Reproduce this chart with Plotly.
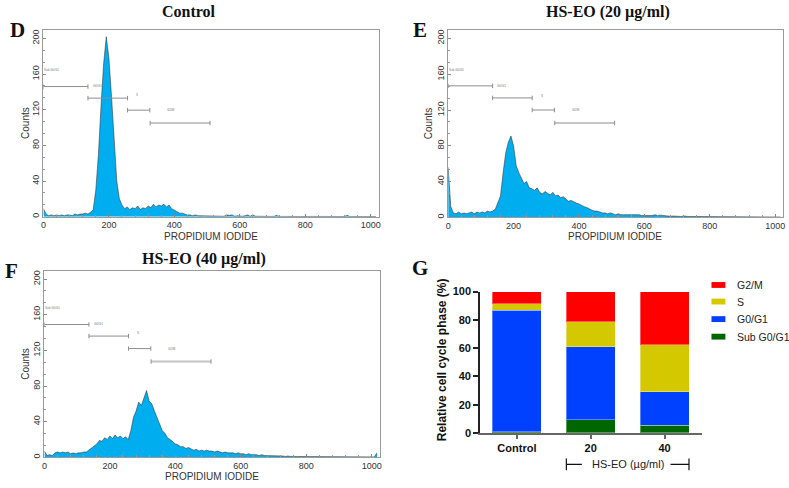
import plotly.graph_objects as go

W, H = 789, 488


def fx(p):
    return p / W


def fy(p):
    return 1 - p / H


# ---------------- data ----------------
channels = list(range(0, 1024, 8))  # PI channel bins (8 channels per bin)

counts_control = [
    9, 3, 1, 2, 1, 2, 1, 2,
    1, 2, 2, 1, 3, 2, 3, 3,
    4, 3, 5, 8, 30, 70, 125, 172,
    202, 178, 135, 80, 40, 20, 13, 9,
    11, 8, 10, 9, 12, 8, 10, 9,
    12, 10, 14, 11, 13, 12, 14, 11,
    13, 9, 7, 6, 4, 4, 3, 2,
    2, 1, 2, 1, 1, 1, 1, 0.5,
    1, 0.5, 1, 0.5, 1, 0.5, 2, 1.5,
    2, 0.5, 1, 0.5, 0.5, 1, 2, 0.5,
    2, 0.5, 0.5, 0.3, 0.5, 0.3, 0.5, 0.3,
    0.3, 1.5, 0.3, 0.3, 0.2, 0.3, 0.2, 0.3,
    0.2, 0.2, 0.3, 0.2, 0.2, 0.2, 0.3, 0.2,
    0.2, 0.2, 0.2, 0.2, 0.2, 0.3, 0.2, 0.2,
    0.2, 0.2, 0.2, 0.2, 1.5, 0.2, 0.2, 0.2,
    0.2, 0.2, 0.2, 0.2, 0.2, 0.2, 0.2, 0.2,
]

counts_20 = [
    56, 12, 5, 4, 6, 4, 5, 4,
    5, 6, 4, 6, 5, 6, 5, 7,
    6, 7, 9, 16, 24, 50, 72, 84,
    91, 80, 58, 50, 44, 38, 40, 33,
    32, 30, 33, 28, 26, 29, 27, 25,
    28, 24, 25, 22, 23, 20, 18, 19,
    17, 16, 15, 13, 12, 11, 9, 8,
    7, 7, 6, 5, 5, 4, 5, 4,
    3, 4, 3, 3, 3, 2.5, 3, 2.5,
    2.5, 3, 2, 2, 2.5, 2, 2, 3,
    2, 2.5, 2, 1.5, 1.5, 1.2, 1.5, 1.2,
    1.5, 1, 1.5, 1, 1, 1, 1, 0.8,
    0.8, 1, 0.8, 0.6, 1, 0.6, 0.6, 0.8,
    0.5, 0.6, 0.5, 0.5, 0.5, 0.5, 0.5, 0.5,
    0.5, 0.5, 0.4, 0.6, 0.4, 0.4, 0.4, 0.4,
    0.4, 0.4, 0.4, 0.4, 0.4, 0.4, 0.4, 0.4,
]

counts_40 = [
    7, 2, 3, 2, 5, 6, 5, 6,
    5, 6, 4, 5, 4, 5, 5, 6,
    6, 8, 10, 12, 15, 19, 18, 22,
    20, 24, 21, 25, 22, 24, 21, 23,
    20, 30, 45, 52, 62, 58, 66, 75,
    63, 60, 52, 45, 38, 30, 27, 22,
    20, 17, 15, 14, 12, 12, 10, 11,
    9, 8, 9, 7, 8, 7, 8, 7,
    7, 6, 7, 6, 5, 6, 5, 5,
    5, 4, 5, 4, 4, 3, 4, 3,
    3, 3, 2, 3, 2, 2, 2, 2,
    2, 1.5, 1.5, 1.5, 1, 1.5, 1, 1,
    1, 1, 0.8, 1, 0.8, 0.8, 1, 0.7,
    0.7, 0.7, 0.6, 0.7, 0.6, 0.6, 0.6, 0.6,
    0.5, 0.5, 0.6, 0.5, 0.5, 0.5, 0.5, 0.5,
    0.5, 0.5, 0.5, 0.5, 0.5, 0.5, 0.5, 5,
]

pi_ticks = [0, 200, 400, 600, 800, 1000]
count_ticks = [0, 40, 80, 120, 160, 200]

# marker gates (channel ranges) and their drawing levels per histogram
gate_start = [0, 136, 257, 326]
gate_end = [136, 257, 325, 509]
gate_level_control = [146, 133, 119.5, 105]
gate_level_20 = [147, 133.5, 120, 105.5]
gate_level_40 = [149, 136, 122, 107.5]
gate_label_text = ["Sub G0/G1", "G0/G1", "S", "G2/M"]
gate_label_x = [26, 164, 286, 390]
gate_label_y_control = [164, 147, 136, 120]
gate_label_y_20 = [165, 147, 136, 120]
gate_label_y_40 = [168, 149, 139, 122]

# bar chart (G)
groups = ["Control", "20", "40"]
sub_g0g1 = [1.0, 9.2, 5.5]
g0g1 = [85.7, 51.7, 23.5]
s_phase = [4.8, 17.7, 33.5]
g2m = [8.5, 21.4, 37.5]
phase_names = ["Sub G0/G1", "G0/G1", "S", "G2/M"]
phase_colors = ["#006600", "#0040FF", "#D4C800", "#FF0000"]
pct_ticks = [0, 20, 40, 60, 80, 100]

# ---------------- figure ----------------
fig = go.Figure()

SANS = "Liberation Sans, Arial, sans-serif"
SERIF = "Liberation Serif, Times New Roman, serif"
FILL = "#00AEEF"

hists = [
    (counts_control, "x", "y", gate_level_control, gate_label_y_control),
    (counts_20, "x2", "y2", gate_level_20, gate_label_y_20),
    (counts_40, "x3", "y3", gate_level_40, gate_label_y_40),
]

shapes = []
annotations = []
for counts, xa, ya, levels, label_ys in hists:
    fig.add_trace(go.Scatter(
        x=channels, y=counts, xaxis=xa, yaxis=ya, mode="lines",
        line=dict(color="rgba(45,45,45,0.75)", width=0.7),
        fill="tozeroy", fillcolor=FILL, showlegend=False, hoverinfo="x+y",
    ))
    for i in range(len(gate_start)):
        thick = i == len(gate_start) - 1
        col = "#c4c4c4" if thick else "#8e8e8e"
        shapes.append(dict(type="line", xref=xa, yref=ya,
                           x0=gate_start[i], x1=gate_end[i], y0=levels[i], y1=levels[i],
                           line=dict(color=col, width=2 if thick else 1)))
        for xe in (gate_start[i], gate_end[i]):
            shapes.append(dict(type="line", xref=xa, yref=ya,
                               x0=xe, x1=xe, y0=levels[i] - 2.5, y1=levels[i] + 2.5,
                               line=dict(color="#8e8e8e", width=1)))
        annotations.append(dict(xref=xa, yref=ya, x=gate_label_x[i], y=label_ys[i],
                                text=gate_label_text[i], showarrow=False,
                                font=dict(family=SANS, size=3, color="#777")))

# stacked bars
for vals, name, col in zip([sub_g0g1, g0g1, s_phase, g2m], phase_names, phase_colors):
    fig.add_trace(go.Bar(
        x=groups, y=vals, name=name, xaxis="x4", yaxis="y4",
        marker=dict(color=col, line=dict(color="rgba(255,255,255,0.35)", width=1)),
        showlegend=False,
    ))

hist_x = dict(range=[0, 1024], tickvals=pi_ticks, ticks="inside", ticklen=3,
              tickcolor="#888", showline=True, mirror=True, linecolor="#9a9a9a",
              linewidth=1, showgrid=False, zeroline=False,
              tickfont=dict(family=SANS, size=9, color="#333"),
              minor=dict(dtick=40, ticks="inside", ticklen=2, tickcolor="#999"))
hist_y = dict(range=[0, 209], tickvals=count_ticks, ticks="inside", ticklen=3,
              tickcolor="#888", showline=True, mirror=True, linecolor="#9a9a9a",
              linewidth=1, showgrid=False, zeroline=False, tickangle=-90,
              tickfont=dict(family=SANS, size=9, color="#333"),
              minor=dict(dtick=40 / 3, ticks="inside", ticklen=2, tickcolor="#999"))

fig.update_layout(
    width=W, height=H, margin=dict(l=0, r=0, t=0, b=0),
    paper_bgcolor="white", plot_bgcolor="white",
    barmode="stack", bargap=0.336, showlegend=False,
    xaxis=dict(hist_x, domain=[fx(40.7), fx(378)], anchor="y"),
    yaxis=dict(hist_y, domain=[fy(216), fy(25)], anchor="x"),
    xaxis2=dict(hist_x, domain=[fx(448), fx(785)], anchor="y2"),
    yaxis2=dict(hist_y, domain=[fy(216.7), fy(25)], anchor="x2"),
    xaxis3=dict(hist_x, domain=[fx(41.7), fx(379)], anchor="y3"),
    yaxis3=dict(hist_y, domain=[fy(462.7), fy(271.7)], anchor="x3"),
    xaxis4=dict(type="category", range=[-0.5, 2.5], domain=[fx(480), fx(703)],
                anchor="y4", showline=True, linecolor="#666", linewidth=2,
                ticks="outside", ticklen=4, tickwidth=1.5, tickcolor="#666",
                showgrid=False, zeroline=False,
                tickfont=dict(family=SANS, size=11, color="#111", weight="bold")),
    yaxis4=dict(range=[0, 100], tickvals=pct_ticks, domain=[fy(437.7), fy(292.7)],
                anchor="x4", showline=True, linecolor="#222", linewidth=1.5,
                ticks="outside", ticklen=5, tickwidth=1.5, tickcolor="#222",
                showgrid=False, zeroline=False,
                tickfont=dict(family=SANS, size=11, color="#111", weight="bold")),
)

# titles, panel letters, axis titles
def txt(x, y, s, size, family=SANS, bold=False, angle=0, color="#111", xanchor="center"):
    annotations.append(dict(xref="paper", yref="paper", x=fx(x), y=fy(y), text=s,
                            showarrow=False, textangle=angle, xanchor=xanchor,
                            yanchor="middle",
                            font=dict(family=family, size=size, color=color,
                                      weight="bold" if bold else "normal")))

txt(187, 6, "Control", 16, SERIF, True)
txt(609, 6, "HS-EO (20 µg/ml)", 16, SERIF, True)
txt(202, 259, "HS-EO (40 µg/ml)", 16, SERIF, True)
txt(15, 25, "D", 21, SERIF, True)
txt(420, 25, "E", 21, SERIF, True)
txt(9, 272, "F", 21, SERIF, True)
txt(420, 269, "G", 21, SERIF, True)

for cx, cy in [(22, 120), (428, 120), (23, 367)]:
    txt(cx, cy, "Counts", 10, SANS, False, -90, "#333")
for cx, cy in [(209, 236), (616, 236), (210, 482)]:
    txt(cx, cy, "PROPIDIUM IODIDE", 10, SANS, False, 0, "#333")

txt(442, 363, "Relative cell cycle phase (%)", 12, SANS, True, -90)

# manual legend for G (top item = G2/M)
leg_y = [339, 321, 303, 286]
for name, col, ly in zip(phase_names, phase_colors, leg_y):
    shapes.append(dict(type="rect", xref="paper", yref="paper",
                       x0=fx(713), x1=fx(727), y0=fy(ly + 3), y1=fy(ly - 3),
                       fillcolor=col, line=dict(width=0)))
    txt(737, ly, name, 10.5, SANS, False, 0, "#222", "left")

# HS-EO bracket under the 20 and 40 groups
bx0, bx1 = 0.67, 2.33
by = fy(470)
shapes += [
    dict(type="line", xref="x4", yref="paper", x0=bx0, x1=0.88, y0=by, y1=by,
         line=dict(color="#111", width=1.2)),
    dict(type="line", xref="x4", yref="paper", x0=2.08, x1=bx1, y0=by, y1=by,
         line=dict(color="#111", width=1.2)),
    dict(type="line", xref="x4", yref="paper", x0=bx0, x1=bx0, y0=fy(464), y1=fy(476),
         line=dict(color="#111", width=1.2)),
    dict(type="line", xref="x4", yref="paper", x0=bx1, x1=bx1, y0=fy(464), y1=fy(476),
         line=dict(color="#111", width=1.2)),
]
annotations.append(dict(xref="x4", yref="paper", x=1.5, y=by, text="HS-EO (µg/ml)",
                        showarrow=False, yanchor="middle",
                        font=dict(family=SANS, size=11, color="#222")))

fig.update_layout(shapes=shapes, annotations=annotations)
fig.write_html(
    "out.html",
    config={"displayModeBar": False},
    post_script="document.body.style.margin='0';document.body.style.overflow='hidden';",
)
